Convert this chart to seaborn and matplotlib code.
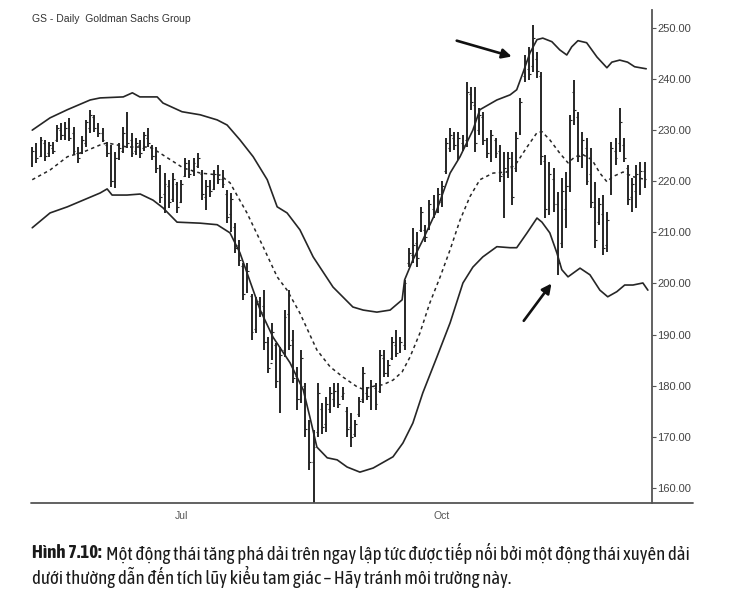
import os
import matplotlib
matplotlib.use('Agg')
import matplotlib.pyplot as plt
from matplotlib import font_manager as fm
import seaborn as sns
import pandas as pd
import numpy as np

# GS daily bars, index 0 = 10 May 2007, one step per trading day
highs = [226.7, 227.5, 228.7, 228.1, 227.7, 227.7, 231.0, 231.3, 231.5, 232.4,
         230.6, 226.7, 228.9, 232.0, 234.0, 233.0, 231.4, 230.4, 227.7, 227.1,
         225.7, 227.5, 230.6, 233.6, 229.5, 228.5, 228.1, 229.6, 230.4, 227.1,
         226.7, 223.2, 221.6, 220.3, 221.6, 219.9, 220.3, 224.6, 224.2, 224.6,
         225.5, 222.2, 220.3, 220.3, 222.2, 223.2, 222.2, 218.3, 217.7, 211.8,
         208.5, 204.0, 204.0, 198.0, 197.4, 197.4, 198.7, 189.5, 192.3, 188.4,
         187.6, 194.8, 198.7, 190.9, 183.7, 187.0, 180.5, 173.3, 171.4, 180.5,
         176.6, 177.8, 179.8, 180.5, 180.5, 179.8, 175.8, 174.7, 173.3, 177.8,
         183.7, 179.8, 181.1, 180.5, 187.0, 187.0, 185.0, 189.5, 190.9, 189.5,
         200.7, 207.0, 210.9, 210.1, 215.0, 211.5, 216.3, 217.3, 218.7, 220.0,
         228.5, 230.4, 229.6, 229.6, 229.0, 239.4, 238.5, 238.5, 234.3, 233.6,
         228.5, 230.0, 228.5, 227.1, 225.7, 225.7, 225.7, 229.6, 236.3, 244.7,
         246.3, 250.6, 245.3, 241.4, 225.2, 223.8, 222.6, 217.9, 220.7, 221.8,
         233.0, 239.8, 233.6, 229.6, 228.5, 226.5, 219.9, 216.7, 217.3, 214.0,
         227.7, 228.5, 234.3, 228.5, 223.2, 220.7, 223.2, 223.8, 223.8]
lows = [222.8, 223.6, 224.8, 224.0, 224.8, 225.3, 227.6, 228.1, 228.0, 227.8,
        225.2, 223.6, 225.3, 226.7, 229.5, 229.6, 228.7, 227.7, 224.8, 218.9,
        218.7, 224.2, 225.5, 226.5, 224.8, 225.2, 224.5, 226.0, 226.7, 224.2,
        221.6, 215.8, 213.8, 214.8, 216.0, 213.8, 215.8, 220.8, 220.7, 221.0,
        222.6, 216.3, 214.4, 217.0, 218.3, 219.5, 218.7, 211.8, 210.1, 206.0,
        203.5, 196.8, 198.1, 189.0, 190.3, 193.5, 187.0, 182.5, 185.0, 179.6,
        174.7, 185.6, 187.0, 180.5, 175.3, 176.6, 170.0, 163.5, 157.0, 170.0,
        170.5, 171.0, 174.7, 175.8, 175.6, 177.2, 170.0, 168.0, 170.0, 173.9,
        176.6, 177.2, 175.3, 175.3, 178.6, 181.7, 181.7, 185.0, 185.6, 186.4,
        187.0, 203.2, 204.0, 203.2, 210.0, 208.1, 210.5, 212.8, 213.8, 215.0,
        221.5, 225.7, 226.1, 224.2, 226.0, 226.7, 234.0, 225.7, 229.1, 227.1,
        224.6, 223.8, 224.6, 219.9, 212.8, 220.7, 215.4, 221.8, 229.1, 239.4,
        239.8, 241.4, 240.2, 223.2, 212.8, 213.4, 214.0, 201.7, 207.0, 210.9,
        217.9, 231.0, 223.8, 222.6, 219.3, 214.8, 207.0, 211.4, 205.6, 206.2,
        217.3, 223.2, 225.7, 223.8, 215.4, 214.0, 214.8, 217.3, 218.7]
opens = [223.5, 226.0, 225.0, 227.5, 225.5, 226.5, 228.0, 230.0, 229.0, 230.5,
         229.5, 225.5, 225.5, 227.5, 230.5, 232.5, 230.5, 229.5, 227.0, 225.5,
         220.0, 224.5, 226.0, 228.5, 228.0, 226.0, 227.0, 226.5, 228.5, 226.5,
         225.0, 222.5, 217.5, 219.0, 216.5, 219.5, 216.0, 221.0, 223.5, 222.0,
         223.0, 221.5, 217.0, 219.0, 218.5, 221.0, 220.5, 217.5, 213.5, 211.0,
         207.5, 203.5, 199.0, 197.5, 191.0, 196.5, 195.5, 188.5, 184.5, 188.0,
         181.5, 187.0, 194.0, 189.0, 182.0, 177.5, 180.0, 172.5, 165.0, 171.0,
         175.5, 172.5, 175.5, 177.5, 179.0, 178.0, 175.0, 172.0, 170.5, 174.5,
         177.5, 178.5, 177.5, 179.5, 179.0, 185.5, 182.5, 185.5, 188.0, 187.0,
         188.0, 204.0, 205.5, 208.0, 210.5, 210.5, 211.0, 214.5, 214.0, 216.0,
         222.0, 226.5, 228.5, 226.5, 227.5, 228.0, 237.0, 235.0, 230.0, 232.5,
         228.0, 225.0, 228.0, 226.0, 221.5, 222.0, 223.0, 222.5, 229.5, 240.5,
         242.0, 242.5, 244.0, 240.5, 224.0, 215.0, 220.5, 215.5, 208.0, 214.5,
         219.0, 237.5, 232.5, 225.5, 226.5, 221.5, 215.0, 212.0, 213.5, 207.5,
         218.5, 226.0, 227.5, 227.0, 222.5, 217.0, 218.0, 220.5, 222.0]
closes = [226.0, 224.5, 228.0, 225.0, 227.0, 226.0, 230.5, 229.0, 230.5, 228.5,
          226.0, 224.5, 228.0, 231.5, 233.0, 230.5, 229.5, 228.0, 225.5, 220.0,
          224.5, 226.5, 229.5, 227.5, 225.5, 227.5, 225.5, 229.0, 227.5, 225.0,
          222.5, 217.0, 219.5, 216.0, 220.5, 215.0, 219.5, 223.5, 221.5, 223.5,
          224.5, 217.5, 219.0, 218.0, 221.5, 220.5, 219.5, 213.0, 216.5, 207.0,
          204.5, 198.0, 202.5, 190.5, 196.0, 194.5, 188.5, 183.5, 190.5, 181.0,
          186.0, 193.5, 188.0, 181.5, 177.5, 185.5, 171.5, 165.0, 168.0, 178.5,
          172.0, 176.5, 178.5, 179.0, 176.5, 178.5, 171.5, 170.0, 172.5, 177.0,
          182.5, 178.0, 180.0, 176.5, 186.0, 182.5, 184.0, 188.5, 186.5, 188.5,
          200.0, 206.0, 207.5, 205.0, 214.0, 209.0, 215.5, 213.5, 217.5, 219.0,
          227.5, 229.0, 227.0, 228.5, 227.0, 237.5, 235.5, 227.5, 233.0, 228.0,
          225.5, 229.0, 225.5, 221.0, 222.5, 224.5, 217.0, 228.5, 235.5, 243.5,
          241.0, 248.0, 241.5, 225.0, 214.5, 221.5, 215.5, 204.0, 218.0, 219.0,
          232.0, 234.0, 225.0, 228.0, 220.0, 216.0, 208.5, 215.5, 207.0, 212.5,
          226.5, 224.5, 231.5, 224.5, 216.5, 219.5, 221.5, 222.0, 220.5]

# envelope lines (bar index, price)
upper_x = [0, 4.3, 8.5, 14, 16.4, 22, 24.2, 26, 30.2, 31.6, 36.2, 40.6, 44.7, 47.1,
           50.2, 53.4, 56.8, 59.2, 61.6, 64.7, 67.9, 72.7, 77.5, 80, 83.3, 86.5,
           89.4, 90, 92, 94.4, 97.8, 101, 103.4, 106.5, 108.2, 112.3, 115.5, 117.1,
           118.6, 120.3, 122, 123.4, 125.6, 127.5, 129.2, 130.4, 131.9, 134, 136.5,
           138.9, 140.1, 142, 143.9, 145.6, 148.4]
upper_y = [230.0, 232.4, 234.0, 235.9, 236.3, 236.5, 237.3, 236.5, 236.5, 235.3,
           233.6, 233.0, 232.0, 231.0, 228.1, 224.8, 220.3, 215.0, 213.8, 210.5,
           205.2, 199.3, 195.4, 194.8, 194.4, 194.8, 196.8, 200.7, 204.6, 208.5,
           214.4, 221.6, 224.8, 230.0, 234.0, 235.9, 236.9, 237.9, 241.2, 245.1,
           247.7, 248.0, 247.3, 245.7, 244.7, 246.3, 247.5, 247.1, 244.3, 242.2,
           243.3, 243.7, 243.3, 242.4, 242.0]
mid_x = [0, 4.3, 8.5, 12.3, 16.4, 18.1, 22.9, 28.5, 30.9, 36.5, 40.6, 45.4, 47.8,
         51.9, 55.8, 59.2, 61.6, 64.7, 68.8, 72, 75.1, 78.5, 80, 83, 84.8, 87.2,
         89.4, 91.3, 93.7, 96.1, 98.6, 101, 103.4, 105.8, 108.2, 111.4, 114.7,
         117.1, 119.6, 122, 123.2, 125.1, 127.5, 129.5, 131.2, 133.1, 135.3, 137.2,
         138.9, 140.3, 142.8, 145.2, 148.4]
mid_y = [220.3, 222.2, 224.8, 225.7, 227.1, 227.5, 226.7, 226.7, 225.5, 222.6,
         221.6, 221.2, 219.7, 213.8, 207.2, 201.3, 198.7, 194.2, 187.0, 183.7,
         181.7, 179.8, 179.3, 180.0, 180.2, 181.1, 182.7, 185.6, 190.3, 196.2,
         201.3, 206.6, 212.4, 217.0, 220.3, 221.6, 221.8, 223.6, 226.7, 229.5,
         229.7, 228.1, 225.5, 223.6, 224.8, 225.2, 224.2, 221.6, 219.9, 220.9,
         221.8, 220.9, 220.3]
lower_x = [0, 4.3, 8.5, 12.3, 16.4, 18.1, 19.3, 22.9, 26.1, 29.2, 31.6, 35, 40.6,
           44.7, 47.8, 50.2, 55.1, 58.2, 62.3, 65.5, 67.1, 68.8, 71.3, 73.7, 76.1,
           79.2, 82.4, 87.2, 89.6, 92, 94.4, 97.8, 101, 104.1, 106.5, 108.9, 112.3,
           115.5, 117.1, 119.6, 122, 123.2, 125.1, 126.8, 128, 129.5, 132.4, 134.8,
           137.2, 139.1, 141.3, 143.2, 145.2, 147.6, 148.8]
lower_y = [210.9, 213.8, 215.0, 216.3, 217.7, 218.5, 217.3, 217.3, 217.5, 216.3,
           214.8, 212.0, 211.8, 211.5, 209.9, 206.0, 194.8, 189.5, 184.5, 179.2,
           173.9, 168.0, 165.9, 165.5, 164.1, 163.1, 163.9, 166.1, 168.8, 172.7,
           178.6, 185.6, 192.3, 200.1, 203.2, 205.2, 207.2, 207.0, 207.0, 209.9,
           212.8, 212.0, 209.9, 206.0, 202.7, 201.3, 203.0, 201.7, 198.7, 197.4,
           198.4, 199.7, 199.7, 200.1, 198.7]

month_ticks = [15, 36, 57, 80, 99, 122, 143]
month_labels = ['', 'Jul', '', '', 'Oct', '', '']
price_ticks = [160, 170, 180, 190, 200, 210, 220, 230, 240, 250]

caption_lead = 'Hình 7.10:'
caption_1 = 'Một động thái tăng phá dải trên ngay lập tức được tiếp nối bởi một động thái xuyên dải'
caption_2 = 'dưới thường dẫn đến tích lũy kiểu tam giác – Hãy tránh môi trường này.'


def _key(path):
    b = os.path.basename(path).lower()
    for w in ('-regular', '-bold', 'regular', 'bold', '.ttf', '.otf', '-'):
        b = b.replace(w, '')
    return b


def condensed_faces():
    """Look for a narrow sans face (regular + bold) among installed fonts."""
    regs, bolds = {}, {}
    for f in fm.fontManager.ttflist:
        base = os.path.basename(f.fname).lower()
        if 'cjk' in base or 'mono' in base or 'serif' in base or f.style != 'normal':
            continue
        if 'extra' in base or 'ultra' in base:
            continue
        if not ('condensed' in base or 'narrow' in base):
            continue
        w = f.weight if isinstance(f.weight, int) else 400
        if w == 400:
            regs[_key(f.fname)] = f.fname
        elif w == 700:
            bolds[_key(f.fname)] = f.fname
    keys = [k for k in regs if k in bolds]
    # prefer fully condensed over semi-condensed
    keys.sort(key=lambda k: ('semi' in k, k))
    if keys:
        return fm.FontProperties(fname=regs[keys[0]]), fm.FontProperties(fname=bolds[keys[0]])
    return (fm.FontProperties(family=['Liberation Sans', 'DejaVu Sans']),
            fm.FontProperties(family=['Liberation Sans', 'DejaVu Sans'], weight='bold'))


sns.set_style('white')
plt.rcParams['font.family'] = ['Liberation Sans', 'DejaVu Sans']

W, H = 747, 606
fig = plt.figure(figsize=(W / 100, H / 100), dpi=100)
ax = fig.add_axes([31 / W, 1 - 503 / H, (652 - 31) / W, (503 - 10) / H])

ink = '#262626'
bars = pd.DataFrame({'high': highs, 'low': lows, 'open': opens, 'close': closes})
bars['idx'] = np.arange(len(bars))

ax.vlines(bars['idx'], bars['low'], bars['high'], color=ink, lw=1.4)
ax.hlines(bars['open'], bars['idx'] - 0.45, bars['idx'], color=ink, lw=0.8)
ax.hlines(bars['close'], bars['idx'], bars['idx'] + 0.45, color=ink, lw=0.8)

sns.lineplot(x=upper_x, y=upper_y, ax=ax, color=ink, lw=1.2, estimator=None, sort=False)
sns.lineplot(x=lower_x, y=lower_y, ax=ax, color=ink, lw=1.2, estimator=None, sort=False)
sns.lineplot(x=mid_x, y=mid_y, ax=ax, color=ink, lw=1.1, estimator=None, sort=False,
             linestyle=(0, (2.2, 2.2)))

ax.set_xlim(-0.3, 149.8)
ax.set_ylim(157.06, 253.5)

# axes styling
for side in ['left', 'top', 'bottom']:
    ax.spines[side].set_visible(False)
ax.spines['right'].set_color('#555555')
ax.spines['right'].set_linewidth(1.3)
ax.plot([0, 1.066], [0, 0], transform=ax.transAxes, clip_on=False,
        color='#555555', lw=1.3)

ax.yaxis.tick_right()
ax.set_yticks(price_ticks)
ax.set_yticklabels([f'{v:.2f}' for v in price_ticks])
ax.tick_params(axis='y', direction='out', length=3, width=0.8, pad=1,
               labelsize=8, colors='#555555', labelcolor='#444444')
ax.set_xticks(month_ticks)
ax.set_xticklabels(month_labels)
ax.tick_params(axis='x', direction='out', length=3, width=0.8, pad=3,
               labelsize=7.5, colors='#777777', labelcolor='#555555')
ax.set_xlabel('')
ax.set_ylabel('')

# arrows
arrow = dict(arrowstyle='-|>', color='#111111', lw=1.9, mutation_scale=14,
             shrinkA=0, shrinkB=0)
ax.annotate('', xy=(115.9, 244.4), xytext=(102.6, 247.5), arrowprops=arrow)
ax.annotate('', xy=(125.5, 200.0), xytext=(118.8, 192.7), arrowprops=arrow)

fig.text(32 / W, 1 - 19 / H, 'GS - Daily  Goldman Sachs Group', fontsize=7.5,
         va='center', color='#333333')

# caption: bold lead + regular text, sized so line 1 ends near x = 688 px
reg_fp, bold_fp = condensed_faces()
size = 12.5
cap_color = '#1a1a1a'
lead = fig.text(32 / W, 1 - 553 / H, caption_lead, fontproperties=bold_fp,
                size=size, va='center', color=cap_color)
rest = fig.text(0, 1 - 553 / H, caption_1, fontproperties=reg_fp,
                size=size, va='center', color=cap_color)
line2 = fig.text(32 / W, 1 - 577 / H, caption_2, fontproperties=reg_fp,
                 size=size, va='center', color=cap_color)
renderer = fig.canvas.get_renderer()
total = lead.get_window_extent(renderer).width + 5 + rest.get_window_extent(renderer).width
size = size * (688 - 32) / total
for t in (lead, rest, line2):
    t.set_size(size)
lead_w = lead.get_window_extent(renderer).width
rest.set_x((32 + lead_w + 5) / W)

fig.savefig('out.png', dpi=100)
